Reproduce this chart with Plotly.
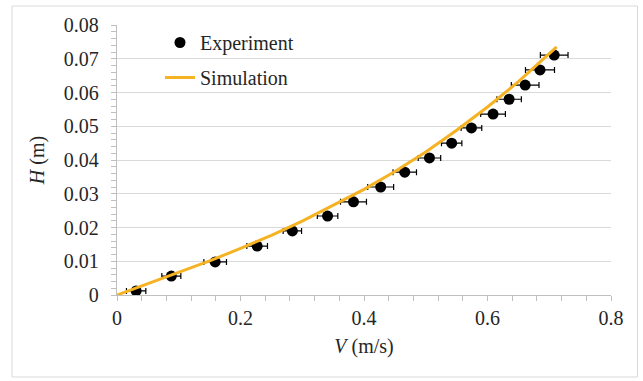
import plotly.graph_objects as go

# Experiment data
exp_v = [0.031, 0.088, 0.159, 0.227, 0.284, 0.341, 0.383, 0.427, 0.466, 0.506,
         0.542, 0.574, 0.609, 0.635, 0.661, 0.685, 0.708]
exp_h = [0.0012, 0.0056, 0.0098, 0.0145, 0.0190, 0.0234, 0.0276, 0.0320, 0.0364, 0.0406,
         0.0450, 0.0495, 0.0536, 0.0580, 0.0622, 0.0667, 0.0711]
exp_err = [0.0157, 0.0154, 0.0183, 0.0167, 0.0149, 0.0166, 0.0210, 0.0210, 0.0190, 0.0182,
           0.0165, 0.0167, 0.0200, 0.0198, 0.0224, 0.0235, 0.0224]

# Simulation curve
sim_v = [0, 0.05, 0.1, 0.15, 0.2, 0.25, 0.3, 0.35, 0.4, 0.45, 0.5, 0.55, 0.6, 0.65, 0.7, 0.712]
sim_h = [0, 0.0033, 0.0066, 0.0101, 0.0138, 0.0177, 0.0219, 0.0265, 0.0313, 0.0366,
         0.0424, 0.0488, 0.0557, 0.0632, 0.0714, 0.0735]

x_ticks = [0, 0.2, 0.4, 0.6, 0.8]
x_labels = ["0", "0.2", "0.4", "0.6", "0.8"]
y_ticks = [0, 0.01, 0.02, 0.03, 0.04, 0.05, 0.06, 0.07, 0.08]
y_labels = ["0", "0.01", "0.02", "0.03", "0.04", "0.05", "0.06", "0.07", "0.08"]

FONT = "Liberation Serif"
FS = 20
TXT = "#262626"

fig = go.Figure()
fig.add_trace(go.Scatter(
    x=exp_v, y=exp_h, mode="markers", name="Experiment", legendgroup="a",
    marker=dict(color="black", size=11),
    error_x=dict(type="data", array=exp_err, color="black", thickness=1.2, width=3),
))
fig.add_trace(go.Scatter(
    x=sim_v, y=sim_h, mode="lines", name="Simulation", legendgroup="b",
    line=dict(color="#F5B324", width=3),
))

W, H = 643, 381
L, R, T, B = 117, 32, 25, 86
pw, ph = W - L - R, H - T - B

def px(xp):
    return (xp - L) / pw

def py(yp):
    return (H - B - yp) / ph

fig.update_layout(
    width=W, height=H,
    margin=dict(l=L, r=R, t=T, b=B, autoexpand=False),
    paper_bgcolor="white", plot_bgcolor="white",
    font=dict(family=FONT, size=FS, color=TXT),
    showlegend=True,
    legend=dict(x=px(160), y=py(23), xanchor="left", yanchor="top",
                bgcolor="rgba(0,0,0,0)", tracegroupgap=6,
                font=dict(family=FONT, size=FS, color=TXT)),
    shapes=[dict(type="rect", xref="paper", yref="paper",
                 x0=px(12), x1=px(637.5), y0=py(377), y1=py(6),
                 line=dict(color="#d9d9d9", width=1), layer="below")],
    xaxis=dict(range=[0, 0.8], tickvals=x_ticks, ticktext=x_labels,
               showgrid=False, zeroline=False,
               showline=True, linecolor="#bfbfbf", linewidth=1.3,
               ticks="outside", ticklen=5, tickcolor="#bfbfbf",
               minor=dict(dtick=0.04, ticks="outside", ticklen=5, tickcolor="#bfbfbf", showgrid=False),
               title=dict(text="<i>V</i> (m/s)", standoff=10,
                          font=dict(family=FONT, size=FS, color=TXT)),
               tickfont=dict(family=FONT, size=FS, color=TXT)),
    yaxis=dict(range=[0, 0.08], tickvals=y_ticks, ticktext=y_labels,
               showgrid=True, gridcolor="#d9d9d9", gridwidth=1.3, zeroline=False,
               showline=True, linecolor="#bfbfbf", linewidth=1.3,
               ticks="outside", ticklen=5, tickcolor="#bfbfbf",
               minor=dict(dtick=0.002, ticks="outside", ticklen=5, tickcolor="#bfbfbf", showgrid=False),
               title=dict(text="<i>H</i> (m)", standoff=13,
                          font=dict(family=FONT, size=FS, color=TXT)),
               tickfont=dict(family=FONT, size=FS, color=TXT), ticklabelstandoff=8),
)

fig.write_html("out.html", config={"displayModeBar": False},
               post_script="document.body.style.margin='0';")
